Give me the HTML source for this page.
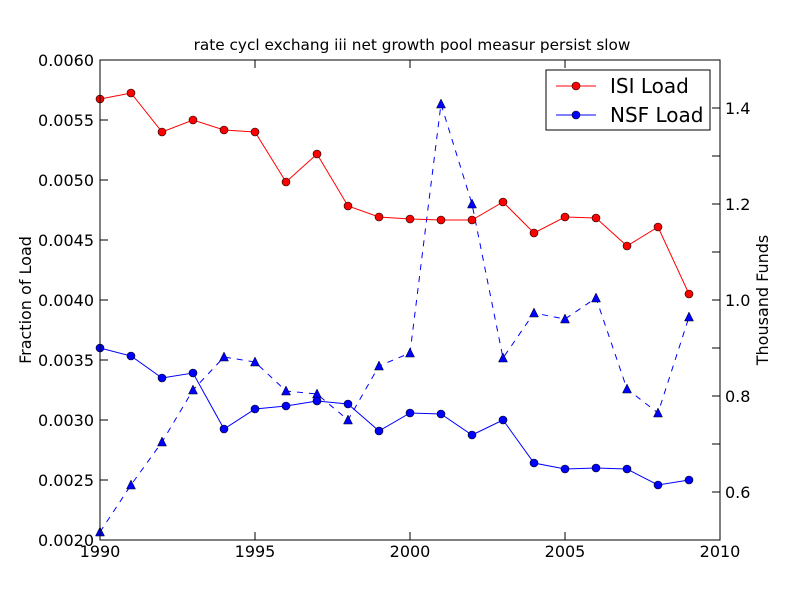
<!DOCTYPE html>
<html><head><meta charset="utf-8"><style>
body{margin:0;background:#fff}
svg text{font-family:"DejaVu Sans",sans-serif}
</style></head><body>
<svg width="800" height="600" xmlns="http://www.w3.org/2000/svg">
<rect width="800" height="600" fill="#fff"/>
<text x="412" y="50" font-size="15.3" text-anchor="middle">rate cycl exchang iii net growth pool measur persist slow</text>
<g id="plot"></g>
<rect x="100" y="60" width="620" height="480" fill="none" stroke="#000" stroke-width="1"/>
<g font-size="16" fill="#000">
<text x="100" y="557" text-anchor="middle">1990</text>
<text x="255" y="557" text-anchor="middle">1995</text>
<text x="410" y="557" text-anchor="middle">2000</text>
<text x="565" y="557" text-anchor="middle">2005</text>
<text x="720" y="557" text-anchor="middle">2010</text>
</g>
<g font-size="16" text-anchor="end">
<text x="94" y="66">0.0060</text>
<text x="94" y="126">0.0055</text>
<text x="94" y="186">0.0050</text>
<text x="94" y="246">0.0045</text>
<text x="94" y="306">0.0040</text>
<text x="94" y="366">0.0035</text>
<text x="94" y="426">0.0030</text>
<text x="94" y="486">0.0025</text>
<text x="94" y="546">0.0020</text>
</g>
<g font-size="16">
<text x="725" y="114">1.4</text>
<text x="725" y="210">1.2</text>
<text x="725" y="306">1.0</text>
<text x="725" y="402">0.8</text>
<text x="725" y="498">0.6</text>
</g>
<text transform="translate(31,300) rotate(-90)" font-size="16" text-anchor="middle">Fraction of Load</text>
<text transform="translate(768,300) rotate(-90)" font-size="16" text-anchor="middle">Thousand Funds</text>
<rect x="546" y="70" width="164" height="60" fill="#fff" stroke="#000"/>
<line x1="556" y1="86" x2="596" y2="86" stroke="red"/>
<circle cx="576" cy="86" r="4" fill="red" stroke="#000" stroke-width="0.6"/>
<text x="610" y="93" font-size="20">ISI Load</text>
<line x1="556" y1="115" x2="596" y2="115" stroke="blue"/>
<circle cx="576" cy="115" r="4" fill="blue" stroke="#000" stroke-width="0.6"/>
<text x="610" y="122" font-size="20">NSF Load</text>
</svg>
<script>
const isi=[99,93,132,120,130,132,182,154,206,217,219,220,220,202,233,217,218,246,227,294];
const nsf=[348,356,378,373,429,409,406,401,404,431,413,414,435,420,463,469,468,469,485,480];
const tri=[532,485,442,390,357,362,391,394,420,366,353,104,204,358,313,319,298,389,413,317];
const g=document.getElementById('plot');let s='';
const pts=a=>a.map((y,i)=>(100+31*i)+','+y).join(' ');
for(let i=0;i<=4;i++){const x=100+155*i;s+=`<line x1="${x}" y1="540" x2="${x}" y2="532" stroke="#000"/><line x1="${x}" y1="60" x2="${x}" y2="68" stroke="#000"/>`;}
for(let i=0;i<=8;i++){const y=60+60*i;s+=`<line x1="100" y1="${y}" x2="108" y2="${y}" stroke="#000"/>`;}
for(let i=0;i<=10;i++){const y=60+48*i;s+=`<line x1="720" y1="${y}" x2="712" y2="${y}" stroke="#000"/>`;}
s+=`<polyline points="${pts(tri)}" fill="none" stroke="blue" stroke-dasharray="6,6"/>`;
tri.forEach((y,i)=>{const x=100+31*i;s+=`<polygon points="${x},${y-5} ${x-4.5},${y+4} ${x+4.5},${y+4}" fill="blue" stroke="#000" stroke-width="0.5"/>`;});
s+=`<polyline points="${pts(isi)}" fill="none" stroke="red"/>`;
isi.forEach((y,i)=>s+=`<circle cx="${100+31*i}" cy="${y}" r="4" fill="red" stroke="#000" stroke-width="0.6"/>`);
s+=`<polyline points="${pts(nsf)}" fill="none" stroke="blue"/>`;
nsf.forEach((y,i)=>s+=`<circle cx="${100+31*i}" cy="${y}" r="4" fill="blue" stroke="#000" stroke-width="0.6"/>`);
g.innerHTML=s;
</script>
</body></html>
